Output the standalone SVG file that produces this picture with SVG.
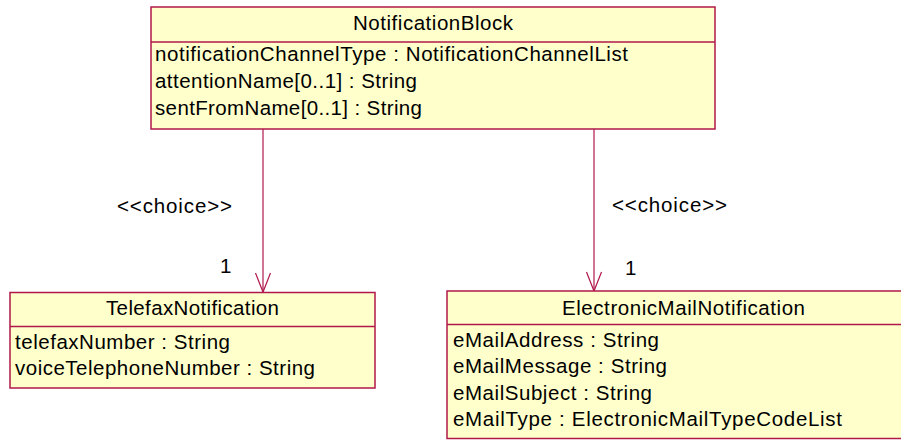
<svg xmlns="http://www.w3.org/2000/svg" width="901" height="441" viewBox="0 0 901 441">
<defs>
<style>
.box{fill:#FFFFCC;stroke:#B0184A;stroke-width:1.5}
.div{stroke:#B0184A;stroke-width:1.5;fill:none}
.edge{stroke:#B0184A;stroke-width:1.2;fill:none}
text{font-family:"Liberation Sans",Arial,sans-serif;font-size:20.5px;fill:#000}
.c{text-anchor:middle}
</style>
</defs>
<rect width="901" height="441" fill="#FFFFFF"/>
<g id="connectors">
<g id="edge-telefax">
<line class="edge" x1="263" y1="129" x2="263" y2="292"/>
<polyline class="edge" points="255.5,273 263,292 270.5,273"/>
<text x="117" y="213" textLength="115" lengthAdjust="spacing">&lt;&lt;choice&gt;&gt;</text>
<text x="220" y="273">1</text>
</g>
<g id="edge-email">
<line class="edge" x1="594" y1="129" x2="594" y2="291"/>
<polyline class="edge" points="586.5,272 594,291 601.5,272"/>
<text x="612" y="212" textLength="115" lengthAdjust="spacing">&lt;&lt;choice&gt;&gt;</text>
<text x="625" y="275">1</text>
</g>
</g>
<g id="NotificationBlock">
<rect class="box" x="151" y="7" width="564" height="122"/>
<line class="div" x1="151" y1="42" x2="715" y2="42"/>
<text class="c" x="433" y="30" textLength="160" lengthAdjust="spacing">NotificationBlock</text>
<text x="155" y="61" textLength="473" lengthAdjust="spacing">notificationChannelType : NotificationChannelList</text>
<text x="155" y="88" textLength="262" lengthAdjust="spacing">attentionName[0..1] : String</text>
<text x="155" y="115" textLength="267" lengthAdjust="spacing">sentFromName[0..1] : String</text>
</g>
<g id="TelefaxNotification">
<rect class="box" x="10" y="292.5" width="365" height="95.5"/>
<line class="div" x1="10" y1="326.5" x2="375" y2="326.5"/>
<text class="c" x="192.5" y="315" textLength="173" lengthAdjust="spacing">TelefaxNotification</text>
<text x="15" y="349" textLength="215" lengthAdjust="spacing">telefaxNumber : String</text>
<text x="15" y="375" textLength="300" lengthAdjust="spacing">voiceTelephoneNumber : String</text>
</g>
<g id="ElectronicMailNotification">
<rect class="box" x="447" y="291" width="473" height="147.5"/>
<line class="div" x1="447" y1="324.5" x2="920" y2="324.5"/>
<text class="c" x="683.5" y="315" textLength="243" lengthAdjust="spacing">ElectronicMailNotification</text>
<text x="453" y="347" textLength="206" lengthAdjust="spacing">eMailAddress : String</text>
<text x="453" y="373" textLength="214" lengthAdjust="spacing">eMailMessage : String</text>
<text x="453" y="400" textLength="199" lengthAdjust="spacing">eMailSubject : String</text>
<text x="453" y="426" textLength="389" lengthAdjust="spacing">eMailType : ElectronicMailTypeCodeList</text>
</g>
</svg>
